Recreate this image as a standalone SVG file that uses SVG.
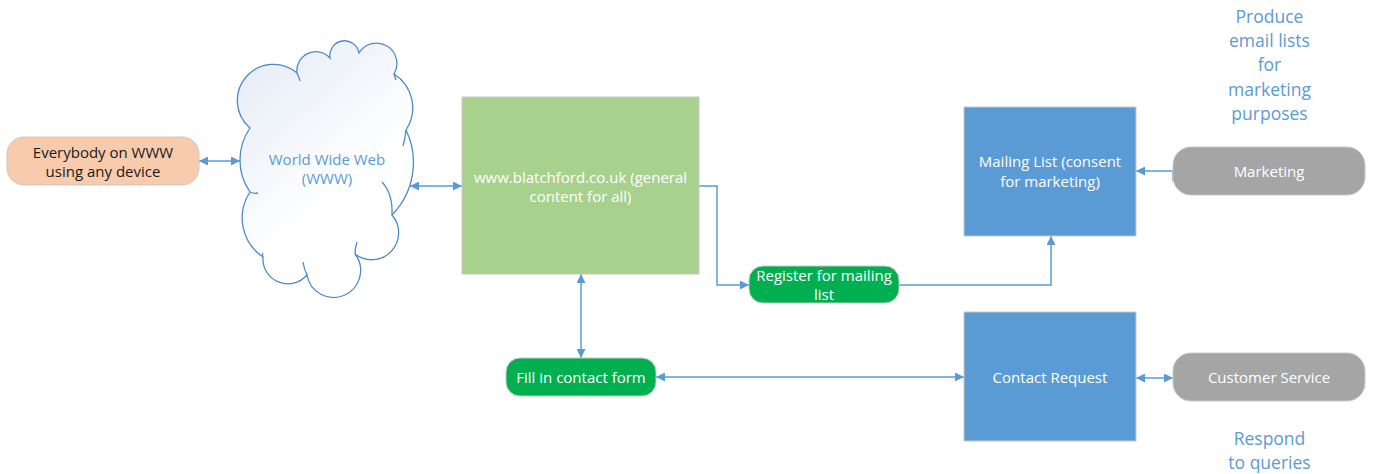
<svg xmlns="http://www.w3.org/2000/svg" width="1373" height="474" viewBox="0 0 1373 474">
<style>
  .t { font-family: "Open Sans", "Liberation Sans", sans-serif; font-size: 15px; text-anchor: middle; }
  .w { fill: #ffffff; }
  .k { fill: #1a1a1a; }
  .b { fill: #5B9BD5; }
  .note { font-family: "Open Sans", "Liberation Sans", sans-serif; font-size: 17.5px; text-anchor: middle; fill: #5B9BD5; }
  .edge { fill: none; stroke: #5B9BD5; stroke-width: 1.5; }
  .both { marker-start: url(#arr); marker-end: url(#arr); }
  .end { marker-end: url(#arr); }
  .cloud { stroke: #4F8BC9; stroke-width: 1.3; }
  .tick { fill: none; stroke: #4F8BC9; stroke-width: 1.3; }
  .nb { stroke: #C8C8C8; stroke-width: 1; }
</style>
<defs>
  <marker id="arr" viewBox="0 0 10 10" refX="10" refY="5" markerWidth="10" markerHeight="9" orient="auto-start-reverse" markerUnits="userSpaceOnUse">
    <path d="M0,0 L10,5 L0,10 z" fill="#5B9BD5"/>
  </marker>
  <linearGradient id="cg" x1="0" y1="0" x2="0.6" y2="1">
    <stop offset="0" stop-color="#E3EAF6"/>
    <stop offset="0.7" stop-color="#FFFFFF"/>
  </linearGradient>
</defs>
<rect width="1373" height="474" fill="#ffffff"/>

<g id="connectors">
  <path class="edge both" d="M199,161 H240"/>
  <path class="edge both" d="M410,186 H462"/>
  <path class="edge end" d="M699,186 H717 V285 H749"/>
  <path class="edge end" d="M899,285 H1051 V236"/>
  <path class="edge end" d="M1173,181 V171 H1136"/>
  <path class="edge both" d="M581,274 V358"/>
  <path class="edge both" d="M656,377 H964"/>
  <path class="edge both" d="M1136,378 H1173"/>
</g>

<g id="everybody">
  <rect class="nb" x="7" y="137" width="192" height="48" rx="17" fill="#F8CBAD"/>
  <text class="t k" x="103" y="158">Everybody on WWW</text>
  <text class="t k" x="103" y="177">using any device</text>
</g>

<g id="www">
  <path class="cloud" fill="url(#cg)" d="M250,128 A35,35 0 0 1 297,73 A19,19 0 0 1 330,58 A14.7,14.7 0 0 1 359,53 A20.4,20.4 0 0 1 394,74 A40,40 0 0 1 406,130 A75,75 0 0 1 392,215 A27,27 0 0 1 355,254 A27,27 0 1 1 307,275 A25,25 0 0 1 263,257 A47,47 0 0 1 250,192 A56,56 0 0 1 250,128 Z"/>
  <path class="tick" d="M297,73 Q299,77 300,81"/>
  <path class="tick" d="M394,74 Q395,77 396,80"/>
  <path class="tick" d="M406,130 Q405,139 403,146"/>
  <path class="tick" d="M392,215 Q393,194 382,182"/>
  <path class="tick" d="M355,254 Q355,248 357,242"/>
  <path class="tick" d="M307,275 Q304,269 303,262"/>
  <path class="tick" d="M263,257 Q262,255 263,253"/>
  <path class="tick" d="M250,192 Q254,194 258,193"/>
  <text class="t b" x="327" y="165">World Wide Web</text>
  <text class="t b" x="327" y="184">(WWW)</text>
</g>

<g id="website">
  <rect class="nb" x="462" y="97" width="237" height="177" fill="#A9D18E"/>
  <text class="t w" x="580.5" y="183">www.blatchford.co.uk (general</text>
  <text class="t w" x="580.5" y="202">content for all)</text>
</g>

<g id="register">
  <rect class="nb" x="749" y="266" width="150" height="37" rx="14" fill="#00B050"/>
  <text class="t w" x="824" y="281">Register for mailing</text>
  <text class="t w" x="824" y="300">list</text>
</g>

<g id="contactform">
  <rect class="nb" x="506" y="358" width="150" height="38" rx="14" fill="#00B050"/>
  <text class="t w" x="581" y="383">Fill in contact form</text>
</g>

<g id="mailinglist">
  <rect class="nb" x="964" y="107" width="172" height="129" fill="#5B9BD5"/>
  <text class="t w" x="1050" y="167">Mailing List (consent</text>
  <text class="t w" x="1050" y="187">for marketing)</text>
</g>

<g id="contactrequest">
  <rect class="nb" x="964" y="312" width="172" height="129" fill="#5B9BD5"/>
  <text class="t w" x="1050" y="383">Contact Request</text>
</g>

<g id="marketing">
  <rect class="nb" x="1173" y="147" width="192" height="48" rx="18" fill="#A5A5A5"/>
  <text class="t w" x="1269" y="177">Marketing</text>
</g>

<g id="customerservice">
  <rect class="nb" x="1173" y="353" width="192" height="48" rx="18" fill="#A5A5A5"/>
  <text class="t w" x="1269" y="383">Customer Service</text>
</g>

<g id="notes">
  <text class="note" x="1269.5" y="23">Produce</text>
  <text class="note" x="1269.5" y="47">email lists</text>
  <text class="note" x="1269.5" y="71">for</text>
  <text class="note" x="1269.5" y="96">marketing</text>
  <text class="note" x="1269.5" y="120">purposes</text>
  <text class="note" x="1269.5" y="445">Respond</text>
  <text class="note" x="1269.5" y="469">to queries</text>
</g>
</svg>
